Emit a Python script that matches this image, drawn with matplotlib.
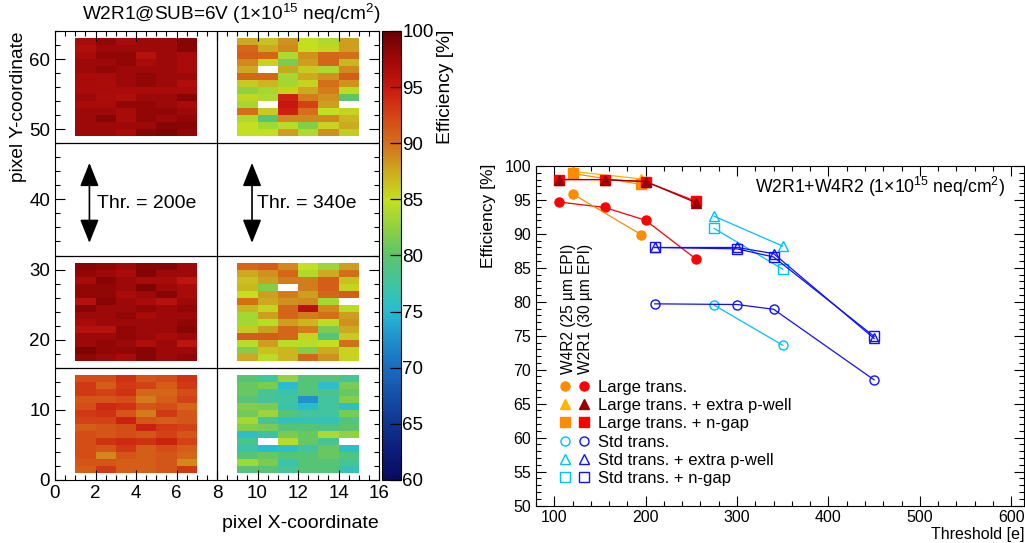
import numpy as np
import matplotlib
matplotlib.use('Agg')
import matplotlib.pyplot as plt
from matplotlib.colors import LinearSegmentedColormap
from matplotlib.legend_handler import HandlerTuple
from matplotlib.lines import Line2D
from matplotlib.ticker import MultipleLocator

plt.rcParams['font.family'] = ['Liberation Sans', 'DejaVu Sans']
plt.rcParams['mathtext.fontset'] = 'custom'
plt.rcParams['mathtext.rm'] = 'Liberation Sans'
plt.rcParams['mathtext.it'] = 'Liberation Sans:italic'
plt.rcParams['mathtext.bf'] = 'Liberation Sans:bold'

nan = np.nan

# --- pixel maps (rows listed top -> bottom, 6 columns each) ---
thr200_top = [
    [97.0, 98.0, 97.0, 97.5, 97.5, 98.5],
    [96.5, 97.5, 97.5, 97.5, 97.5, 98.5],
    [97.0, 98.0, 98.0, 96.0, 97.5, 97.0],
    [97.5, 97.5, 98.0, 97.0, 97.5, 97.0],
    [97.5, 98.0, 97.5, 97.5, 97.5, 97.0],
    [97.0, 97.0, 97.5, 98.0, 97.5, 97.5],
    [97.0, 96.8, 97.5, 98.0, 97.5, 96.5],
    [97.0, 97.0, 97.0, 97.0, 97.0, 97.0],
    [97.5, 96.8, 96.5, 97.5, 97.5, 98.5],
    [97.0, 97.0, 98.0, 98.0, 97.5, 97.0],
    [97.5, 97.5, 97.0, 98.0, 98.0, 97.5],
    [97.5, 98.5, 97.0, 98.0, 97.5, 98.0],
    [97.5, 97.5, 97.5, 97.5, 98.5, 98.5],
    [97.5, 97.5, 97.0, 98.5, 99.0, 98.0],
]
thr340_top = [
    [87.5, 86.5, 88.5, 85.0, 84.0, 88.0],
    [90.5, 87.5, 89.0, 85.0, 85.5, 88.0],
    [91.0, 90.5, 84.0, 88.5, 90.5, 90.0],
    [89.0, 85.5, 81.5, 88.0, 90.5, 87.0],
    [87.5, nan, 87.8, 86.0, 84.0, 89.0],
    [90.5, 90.5, 83.5, 87.5, 88.5, 91.0],
    [86.0, 87.0, 83.5, 85.5, 90.0, 88.5],
    [82.5, 83.5, 85.5, 87.5, 89.5, 84.5],
    [85.5, 84.0, 94.5, 89.5, 88.5, 80.0],
    [83.5, nan, 95.0, 92.5, 88.0, nan],
    [90.0, 86.0, 94.5, 90.0, 85.0, 85.5],
    [84.0, 79.5, 89.0, 89.0, 89.0, 87.0],
    [85.0, 83.5, 84.5, 82.0, 85.5, 87.5],
    [85.0, 85.0, 88.0, 84.0, 88.5, 86.0],
]
thr200_mid = [
    [98.5, 98.0, 97.5, 98.5, 98.5, 97.5],
    [98.0, 97.5, 97.0, 98.8, 97.5, 97.5],
    [97.0, 98.5, 97.5, 97.0, 97.0, 95.5],
    [98.0, 98.0, 97.5, 99.0, 97.5, 97.0],
    [98.0, 98.0, 97.0, 97.5, 98.5, 97.0],
    [96.0, 98.5, 97.5, 97.0, 96.0, 97.5],
    [98.5, 97.5, 97.5, 98.0, 97.5, 98.0],
    [97.5, 97.5, 98.0, 97.0, 97.5, 97.5],
    [97.0, 97.5, 97.5, 97.5, 97.5, 98.0],
    [96.0, 96.0, 98.0, 97.5, 97.5, 98.5],
    [97.5, 97.5, 98.0, 97.5, 97.0, 97.5],
    [97.5, 98.0, 97.5, 96.5, 97.5, 95.5],
    [99.0, 98.0, 98.0, 98.5, 97.5, 97.5],
    [98.0, 97.5, 97.0, 98.5, 97.5, 98.0],
]
thr340_mid = [
    [90.5, 91.0, 89.0, 85.0, 83.0, 88.0],
    [87.5, 88.5, 90.5, 84.0, 87.5, 90.0],
    [86.5, 88.0, 89.5, 89.5, 91.0, 86.5],
    [87.0, 82.0, nan, 89.5, 91.0, 85.5],
    [85.0, 88.0, 89.5, 88.0, 90.5, 91.0],
    [90.0, 87.5, 88.5, 89.0, 83.5, nan],
    [87.0, 85.5, 90.5, 96.0, 89.0, 84.5],
    [83.5, 88.0, 90.5, 89.5, 90.0, 88.0],
    [83.5, 84.5, 88.0, 87.0, 84.5, 88.5],
    [86.0, 88.0, 90.5, 89.5, 81.5, 87.5],
    [91.0, 91.0, 90.5, 85.5, 79.5, 86.0],
    [84.5, 88.0, 84.5, 84.5, 85.0, 90.0],
    [82.0, 86.5, 87.0, 82.0, 87.5, 85.5],
    [87.5, 84.5, 87.0, 90.5, 88.5, 85.5],
]
thr200_bot = [
    [92.0, 92.0, 93.5, 91.5, 92.0, 93.5],
    [93.0, 91.0, 93.0, 92.5, 91.0, 93.0],
    [93.0, 92.5, 93.5, 90.5, 90.5, 92.0],
    [91.5, 91.5, 92.0, 89.5, 91.0, 92.5],
    [92.0, 94.0, 93.5, 91.5, 92.0, 90.5],
    [93.0, 93.5, 91.5, 89.5, 93.0, 91.5],
    [92.5, 92.5, 94.5, 91.5, 91.0, 91.5],
    [91.0, 91.5, 92.0, 94.5, 93.0, 92.5],
    [92.0, 91.5, 92.0, 91.5, 92.5, 91.5],
    [92.0, 93.5, 94.0, 93.5, 94.5, 92.5],
    [92.0, 91.5, 93.0, 91.0, 92.0, 91.0],
    [92.0, 89.0, 91.5, 91.0, 91.5, 90.5],
    [91.5, 91.5, 91.0, 91.0, 91.5, 89.0],
    [91.0, 93.0, 91.0, 91.0, 91.5, 93.0],
]
thr340_bot = [
    [79.5, 77.5, 82.5, 79.5, 79.5, 78.0],
    [80.5, 81.5, 75.0, 79.5, 75.5, 81.5],
    [80.5, 78.0, 77.0, 79.5, 78.5, 80.5],
    [79.5, 78.0, 77.5, 72.5, 77.5, 82.0],
    [82.0, 81.5, 77.0, 75.0, 77.5, 75.5],
    [81.0, 83.0, 79.5, 78.0, 77.5, 81.5],
    [83.5, 78.0, 76.0, 76.5, 76.5, 79.0],
    [82.0, 81.5, 79.5, 79.5, 78.5, 80.0],
    [75.5, 77.0, 81.5, 80.5, 84.0, 82.5],
    [78.5, nan, 84.5, 80.5, 78.0, nan],
    [77.0, 75.0, 75.5, 77.5, 80.5, 75.5],
    [79.5, 80.5, 79.5, 79.5, 80.5, 79.0],
    [83.5, 81.5, 77.0, 79.5, 79.5, 78.0],
    [79.5, 79.5, 78.0, 79.5, 79.5, 76.5],
]

# --- efficiency vs threshold ---
thr_w2r1_large = [105, 155, 200, 255]
thr_w4r2_large = [120, 195]
thr_w2r1_std = [210, 300, 340, 450]
thr_w4r2_std = [275, 350]

eff_w2r1_large = [94.7, 93.9, 92.0, 86.3]
eff_w4r2_large = [95.9, 89.9]
eff_w2r1_pwell = [98.0, 98.0, 97.7, 94.6]
eff_w4r2_pwell = [99.2, 98.1]
eff_w2r1_ngap = [98.0, 98.0, 97.7, 94.8]
eff_w4r2_ngap = [98.9, 97.3]
eff_w2r1_std = [79.7, 79.6, 78.9, 68.5]
eff_w4r2_std = [79.5, 73.6]
eff_w2r1_std_pwell = [88.0, 88.0, 87.1, 74.6]
eff_w4r2_std_pwell = [92.6, 88.2]
eff_w2r1_std_ngap = [88.0, 87.8, 86.6, 74.9]
eff_w4r2_std_ngap = [90.8, 84.8]

legend_labels = ['Large trans.', 'Large trans. + extra p-well', 'Large trans. + n-gap',
                 'Std trans.', 'Std trans. + extra p-well', 'Std trans. + n-gap']

W, H = 1025, 543
fig = plt.figure(figsize=(W / 100, H / 100), dpi=100)
ax = fig.add_axes([55 / W, 1 - 480 / H, 324 / W, 449 / H])
cax = fig.add_axes([382 / W, 1 - 480 / H, 19 / W, 449 / H])
ax2 = fig.add_axes([536 / W, 1 - 505.5 / H, 488 / W, 339.5 / H])

stops = [(60, '#0a0a5e'), (62.5, '#0c1c78'), (65, '#10358f'), (67.5, '#1550a8'),
         (70, '#1a6cbf'), (72.5, '#2090cc'), (75, '#28bcd0'), (77.5, '#40c4a0'),
         (80, '#5cc46c'), (82.5, '#90d040'), (85, '#c4e020'), (87.5, '#ccac20'),
         (90, '#d4701a'), (92.5, '#d44416'), (95, '#c81810'), (97.5, '#a00808'),
         (100, '#6a0000')]
cmap = LinearSegmentedColormap.from_list('eff', [((v - 60) / 40, c) for v, c in stops])

blocks = [(thr200_top, 1, 49), (thr340_top, 9, 49), (thr200_mid, 1, 17),
          (thr340_mid, 9, 17), (thr200_bot, 1, 1), (thr340_bot, 9, 1)]
for arr, x0, y0 in blocks:
    z = np.ma.masked_invalid(np.flipud(np.array(arr)))
    xe = np.arange(x0, x0 + 7)
    ye = np.arange(y0, y0 + 15)
    mesh = ax.pcolormesh(xe, ye, z, cmap=cmap, vmin=60, vmax=100)

for yy in (16, 32, 48):
    ax.axhline(yy, color='black', lw=0.9)
ax.axvline(8, color='black', lw=0.9)

ax.set_xlim(0, 16)
ax.set_ylim(0, 64)
ax.xaxis.set_major_locator(MultipleLocator(2))
ax.xaxis.set_minor_locator(MultipleLocator(0.5))
ax.yaxis.set_major_locator(MultipleLocator(10))
ax.yaxis.set_minor_locator(MultipleLocator(2))
ax.tick_params(which='both', direction='in', top=True, right=True, labelsize=13.5, width=0.8)
ax.tick_params(which='major', length=7)
ax.tick_params(which='minor', length=3.5)

for xa, xt, lab in [(1.7, 2.05, 'Thr. = 200e'), (9.73, 9.96, 'Thr. = 340e')]:
    ax.annotate('', xy=(xa, 45.2), xytext=(xa, 33.8),
                arrowprops=dict(arrowstyle='<|-|>,head_length=1.45,head_width=0.58',
                                color='black', lw=1.2, mutation_scale=10,
                                shrinkA=0, shrinkB=0))
    ax.text(xt, 39.4, lab, fontsize=14, va='center', ha='left')

cb = fig.colorbar(mesh, cax=cax)
cb.outline.set_linewidth(0.8)
cb.set_ticks(np.arange(60, 101, 5))
cax.tick_params(direction='in', length=8, width=0.9, labelsize=13.5, pad=1, right=True, left=False)

fig.text(231 / W, 1 - 14 / H, 'W2R1@SUB=6V (1×10$^{15}$ neq/cm$^{2}$)', fontsize=13.7,
         ha='center', va='center')
fig.text(446 / W, 1 - 30 / H, 'Efficiency [%]', fontsize=13.8, rotation=90, ha='center', va='top')
fig.text(19 / W, 1 - 32 / H, 'pixel Y-coordinate', fontsize=13.8, rotation=90, ha='center', va='top')
fig.text(379 / W, 1 - 523 / H, 'pixel X-coordinate', fontsize=14, ha='right', va='center')

# right panel
lw = 0.9
ms = 6.5
orange = '#ff8c00'
yellow = '#ffb400'
red = '#ff0000'
dred = '#990000'
blue = '#1010ff'
cyan = '#00bfff'

ax2.plot(thr_w2r1_large, eff_w2r1_large, '-o', color=red, lw=lw, ms=ms)
ax2.plot(thr_w4r2_large, eff_w4r2_large, '-o', color=orange, lw=lw, ms=ms)
ax2.plot(thr_w4r2_large, eff_w4r2_pwell, '-^', color=yellow, lw=lw, ms=ms)
ax2.plot(thr_w4r2_large, eff_w4r2_ngap, '-s', color=orange, lw=lw, ms=ms)
ax2.plot(thr_w2r1_large, eff_w2r1_ngap, '-s', color=red, lw=lw, ms=ms)
ax2.plot(thr_w2r1_large, eff_w2r1_pwell, '-^', color=dred, lw=lw, ms=ms)

ax2.plot(thr_w4r2_std, eff_w4r2_std, '-o', color=cyan, lw=lw, ms=ms, mfc='none')
ax2.plot(thr_w4r2_std, eff_w4r2_std_pwell, '-^', color=cyan, lw=lw, ms=ms, mfc='none')
ax2.plot(thr_w4r2_std, eff_w4r2_std_ngap, '-s', color=cyan, lw=lw, ms=ms, mfc='none')
ax2.plot(thr_w2r1_std, eff_w2r1_std, '-o', color=blue, lw=lw, ms=ms, mfc='none')
ax2.plot(thr_w2r1_std, eff_w2r1_std_pwell, '-^', color=blue, lw=lw, ms=ms, mfc='none')
ax2.plot(thr_w2r1_std, eff_w2r1_std_ngap, '-s', color=blue, lw=lw, ms=ms, mfc='none')

ax2.set_xlim(80, 614)
ax2.set_ylim(50, 100)
ax2.xaxis.set_major_locator(MultipleLocator(100))
ax2.xaxis.set_minor_locator(MultipleLocator(20))
ax2.yaxis.set_major_locator(MultipleLocator(5))
ax2.yaxis.set_minor_locator(MultipleLocator(1))
ax2.tick_params(which='both', direction='in', top=True, right=True, labelsize=11.5, width=0.8)
ax2.tick_params(which='major', length=7)
ax2.tick_params(which='minor', length=3.5)

ax2.text(0.961, 0.938, 'W2R1+W4R2 (1×10$^{15}$ neq/cm$^{2}$)', transform=ax2.transAxes,
         fontsize=12.7, ha='right', va='center')
ax2.text(115.3, 69.4, 'W4R2 (25 µm EPI)', rotation=90, fontsize=11.2, ha='center', va='bottom')
ax2.text(134.4, 69.4, 'W2R1 (30 µm EPI)', rotation=90, fontsize=11.2, ha='center', va='bottom')
fig.text(488 / W, 1 - 164 / H, 'Efficiency [%]', fontsize=12.5, rotation=90, ha='center', va='top')
fig.text(931 / W, 1 - 535 / H, 'Threshold [e]', fontsize=11.5, ha='left', va='center')

def mk(m, c, filled=True):
    return Line2D([], [], ls='none', marker=m, color=c, ms=ms, mfc=c if filled else 'none')

handles = [(mk('o', orange), mk('o', red)),
           (mk('^', yellow), mk('^', dred)),
           (mk('s', orange), mk('s', red)),
           (mk('o', cyan, False), mk('o', blue, False)),
           (mk('^', cyan, False), mk('^', blue, False)),
           (mk('s', cyan, False), mk('s', blue, False))]
ax2.legend(handles, legend_labels, handler_map={tuple: HandlerTuple(ndivide=None, pad=0.3)},
           loc='upper left', bbox_to_anchor=(0.045, 0.371), frameon=False, fontsize=12,
           handlelength=2.0, handletextpad=0.4, labelspacing=0.2, borderpad=0, borderaxespad=0)

fig.savefig('out.png', dpi=100)
